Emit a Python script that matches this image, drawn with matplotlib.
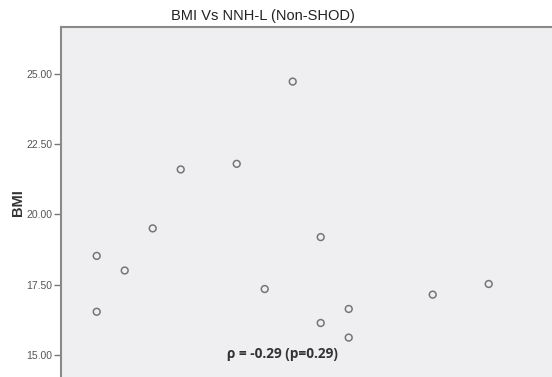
import matplotlib
matplotlib.use("Agg")
import matplotlib.pyplot as plt

# NNH-L scores and matching BMI values (Non-SHOD group)
nnh_l = [2, 2, 3, 4, 5, 7, 8, 9, 10, 10, 11, 11, 14, 16]
bmi = [18.52, 16.53, 18.00, 19.50, 21.60, 21.80, 17.34, 24.73,
       19.19, 16.13, 16.63, 15.61, 17.14, 17.52]

y_ticks = [15.0, 17.5, 20.0, 22.5, 25.0]
rho_text = "\u03c1 = -0.29 (p=0.29)"

plt.rcParams['font.family'] = ['Liberation Sans', 'DejaVu Sans']

fig = plt.figure(figsize=(5.52, 3.77), dpi=100)
left = 60.5 / 552
top = 1 - 26.7 / 377
# axes run off the right and bottom edges, so those spines are hidden
ax = fig.add_axes([left, 0, 1 - left, top])
ax.set_facecolor('#efeff1')

ax.scatter(nnh_l, bmi, s=24, facecolors='none', edgecolors='#767676',
           linewidths=1.1, zorder=3)

ax.set_xlim(0.707, 18.26)
ax.set_ylim(14.206, 26.685)

ax.set_yticks(y_ticks)
ax.set_yticklabels([f"{v:.2f}" for v in y_ticks])
ax.tick_params(axis='y', length=5, width=1, color='#777777',
               labelsize=7.5, labelcolor='#555555', pad=1)
ax.set_xticks([])

for side in ('right', 'bottom'):
    ax.spines[side].set_visible(False)
for side in ('left', 'top'):
    ax.spines[side].set_color('#8a8a8a')
    ax.spines[side].set_linewidth(1.5)

ax.text(8.65, 15.02, rho_text, ha='center', va='center', fontsize=9.8,
        fontweight='bold', color='#333333', family=['Open Sans', 'DejaVu Sans'])

fig.text(263 / 552, 1 - 15.7 / 377, "BMI Vs NNH-L (Non-SHOD)", ha='center',
         va='center', fontsize=10.5, color='#222222')
fig.text(18 / 552, 1 - 203 / 377, "BMI", ha='center', va='center',
         rotation=90, fontsize=10.5, fontweight='bold', color='#333333')

fig.savefig('out.png', dpi=100)
